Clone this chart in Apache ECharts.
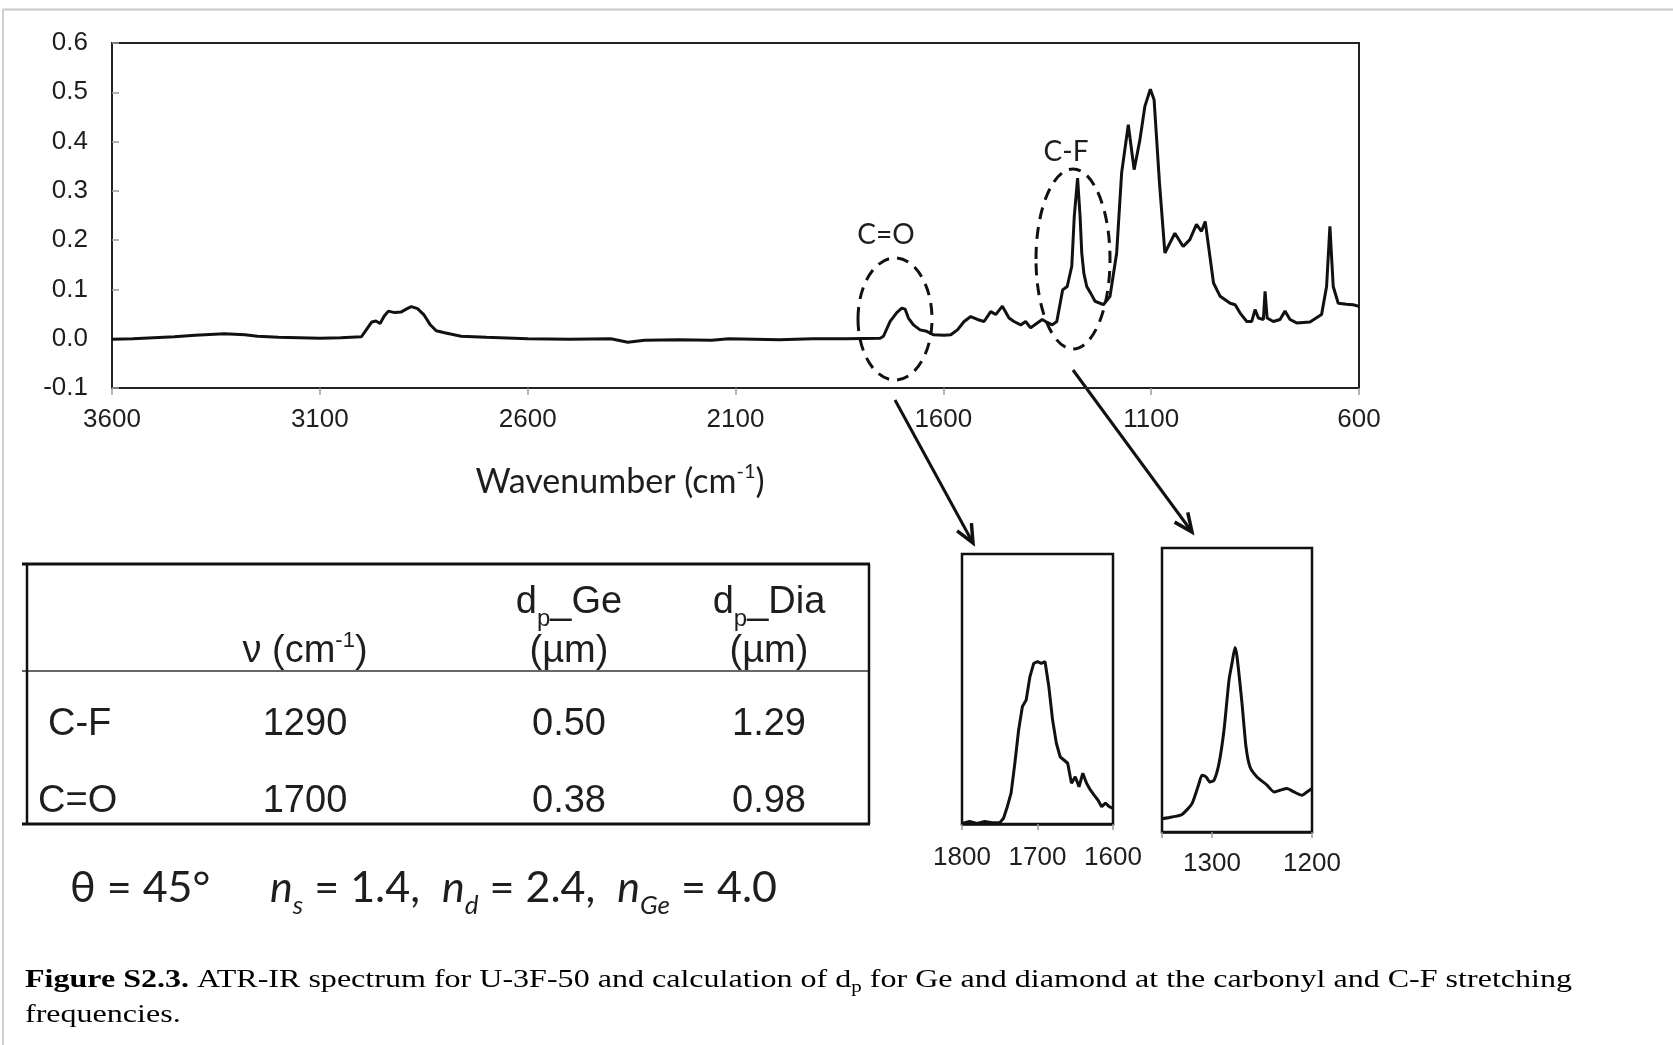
<!DOCTYPE html>
<html><head><meta charset="utf-8">
<script src="https://cdn.jsdelivr.net/npm/echarts@6/dist/echarts.min.js"></script>
<style>html,body{margin:0;padding:0;background:#fff;}#c{width:1673px;height:1045px;}</style>
</head><body><div id="c"></div>
<script>
// ---- main ATR-IR spectrum (wavenumber cm-1, absorbance) ----
const wavenumber = [3600,3550,3500,3450,3400,3330,3280,3250,3200,3150,3100,3050,3000,2990,2975,2965,2955,2945,2935,2920,2905,2890,2880,2865,2850,2835,2820,2800,2760,2700,2600,2500,2400,2359,2319,2237,2157,2116,1995,1914,1833,1752,1744,1728,1712,1700,1692,1684,1672,1656,1640,1624,1598,1582,1566,1550,1534,1518,1502,1486,1474,1458,1442,1430,1414,1402,1390,1374,1362,1350,1338,1327,1313,1302,1291,1285,1277,1271,1267,1262,1255,1246,1235,1215,1199,1183,1171,1155,1141,1127,1115,1102,1093,1080,1067,1055,1043,1023,1007,991,979,970,963,950,934,910,898,886,870,858,850,842,830,826,821,806,790,778,766,750,718,690,678,670,662,650,630,614,602,600];
const absorbance = [-0.001,0.000,0.002,0.004,0.007,0.010,0.008,0.005,0.003,0.002,0.001,0.002,0.004,0.016,0.034,0.036,0.031,0.046,0.056,0.053,0.054,0.061,0.065,0.061,0.049,0.029,0.016,0.012,0.005,0.003,0.000,-0.001,0.000,-0.007,-0.003,-0.002,-0.003,0.000,-0.002,0.000,0.000,0.001,0.005,0.035,0.053,0.062,0.060,0.042,0.028,0.018,0.015,0.008,0.007,0.008,0.018,0.035,0.045,0.039,0.035,0.055,0.049,0.066,0.042,0.035,0.028,0.035,0.022,0.032,0.039,0.033,0.028,0.035,0.099,0.106,0.147,0.248,0.326,0.248,0.174,0.133,0.106,0.093,0.076,0.069,0.086,0.174,0.337,0.434,0.343,0.404,0.472,0.506,0.485,0.316,0.174,0.194,0.214,0.187,0.201,0.232,0.218,0.238,0.194,0.113,0.086,0.072,0.069,0.052,0.035,0.035,0.059,0.042,0.039,0.096,0.042,0.035,0.039,0.056,0.039,0.032,0.034,0.049,0.106,0.228,0.106,0.072,0.070,0.069,0.066,0.066];

// ---- C=O inset (relative intensity) ----
const coWavenumber = [1800,1790,1780,1770,1760,1750,1745,1740,1735,1730,1725,1720,1715,1710,1705,1700,1695,1690,1685,1680,1675,1670,1665,1660,1655,1650,1645,1640,1635,1630,1625,1620,1615,1610,1605,1600];
const coIntensity = [0.002,0.009,0.002,0.009,0.005,0.005,0.021,0.064,0.114,0.225,0.348,0.435,0.459,0.546,0.595,0.601,0.595,0.601,0.509,0.385,0.299,0.249,0.237,0.225,0.151,0.175,0.138,0.188,0.151,0.126,0.107,0.089,0.064,0.077,0.064,0.058];

// ---- C-F inset (relative intensity) ----
const cfWavenumber = [1350,1340,1330,1320,1313,1310,1306,1302,1298,1293,1288,1283,1280,1277,1275,1270,1266,1262,1255,1245,1238,1232,1225,1218,1210,1205,1200];
const cfIntensity = [0.047,0.053,0.062,0.100,0.171,0.200,0.194,0.176,0.182,0.241,0.359,0.535,0.594,0.650,0.618,0.453,0.300,0.229,0.194,0.165,0.141,0.147,0.153,0.141,0.129,0.141,0.153];

// ---- table ----
const tableBonds = ['C-F', 'C=O'];
const tableNu = ['1290', '1700'];
const tableDpGe = ['0.50', '0.38'];
const tableDpDia = ['1.29', '0.98'];

const mainXRange = [600, 3600], mainXStep = 500;
const mainYRange = [-0.1, 0.6], mainYStep = 0.1;

const zip = (a, b) => a.map((v, i) => [v, b[i]]);
const INK = '#111', TXT = '#1e1e1e';
const SANS = '"Liberation Sans", Arial, sans-serif';
const CAL = 'Lato, "Open Sans", sans-serif';
const SERIF = '"Liberation Serif", "Times New Roman", serif';

function measure(font, t) {
  const c = document.createElement('canvas').getContext('2d');
  c.font = font; return c.measureText(t).width;
}
const CAP = 26, CAPSUB = 17;
const capA = 'Figure S2.3.', capB = ' ATR-IR spectrum for U-3F-50 and calculation of d', capC = 'p', capD = ' for Ge and diamond at the carbonyl and C-F stretching';
const capW = measure('bold ' + CAP + 'px "Liberation Serif"', capA) + measure(CAP + 'px "Liberation Serif"', capB + capD) + measure(CAPSUB + 'px "Liberation Serif"', capC);
const capScale = 1547 / capW;

function arrow(x1, y1, x2, y2) {
  const a = Math.atan2(y2 - y1, x2 - x1), L = 20, w = 0.42;
  return [
    {type: 'line', shape: {x1, y1, x2, y2}, style: {stroke: INK, lineWidth: 3}},
    {type: 'polyline', shape: {points: [[x2 - L * Math.cos(a - w), y2 - L * Math.sin(a - w)], [x2, y2], [x2 - L * Math.cos(a + w), y2 - L * Math.sin(a + w)]]}, style: {stroke: INK, lineWidth: 3.5, fill: null}}
  ];
}
function hline(x1, x2, y, w, c) { return {type: 'line', shape: {x1, y1: y, x2, y2: y}, style: {stroke: c || INK, lineWidth: w}}; }
function vline(x, y1, y2, w) { return {type: 'line', shape: {x1: x, y1, x2: x, y2}, style: {stroke: INK, lineWidth: w}}; }
function txt(x, y, text, size, opts) {
  return {type: 'text', x, y, style: Object.assign({text, fontSize: size, fontFamily: SANS, fill: TXT, align: 'center', verticalAlign: 'middle'}, opts || {})};
}

const tblCols = [305, 569, 769];
const tblRows = [725, 802];
const dpRich = {lineHeight: 56, rich: {sub: {fontSize: 24, fontFamily: SANS, lineHeight: 24, verticalAlign: 'bottom', fill: TXT}}};
const graphics = [
  // page frame
  hline(3, 1673, 9.5, 2, '#c8c8c8'),
  {type: 'line', shape: {x1: 3, y1: 9, x2: 3, y2: 1045}, style: {stroke: '#d0d0d0', lineWidth: 2}},
  // annotations
  {type: 'ellipse', shape: {cx: 895, cy: 319, rx: 37, ry: 61}, style: {stroke: INK, lineWidth: 3, fill: null, lineDash: [12, 8]}},
  {type: 'ellipse', shape: {cx: 1073, cy: 259, rx: 37, ry: 90}, style: {stroke: INK, lineWidth: 3, fill: null, lineDash: [12, 8]}},
  ...arrow(895, 400, 973, 543),
  ...arrow(1073, 370, 1192, 532),
  txt(886, 235, 'C=O', 28, {fontFamily: CAL}),
  txt(1066, 152, 'C-F', 28, {fontFamily: CAL}),
  txt(620, 482, 'Wavenumber (cm{sup|-1})', 34, {fontFamily: CAL, lineHeight: 40, rich: {sup: {fontSize: 20, fontFamily: CAL, lineHeight: 20, verticalAlign: 'top', fill: TXT}}}),
  // table
  hline(22, 870, 564, 3),
  hline(22, 870, 671, 1.5, '#333'),
  hline(22, 870, 824, 3),
  vline(27, 564, 824, 2.5),
  vline(869, 564, 824, 2.5),
  txt(tblCols[0], 652, '\u03bd (cm{sup|-1})', 38, {lineHeight: 44, rich: {sup: {fontSize: 22, fontFamily: SANS, lineHeight: 22, verticalAlign: 'top', fill: TXT}}}),
  txt(tblCols[1], 603, 'd{sub|p}_Ge', 38, dpRich),
  txt(tblCols[1], 652, '(\u00b5m)', 38),
  txt(tblCols[2], 603, 'd{sub|p}_Dia', 38, dpRich),
  txt(tblCols[2], 652, '(\u00b5m)', 38),
  // formula line
  txt(70, 888, '\u03b8 = 45\u00b0', 43, {fontFamily: CAL, align: 'left'}),
  txt(270, 888, '{it|n}{sub|s} = 1.4,  {it|n}{sub|d} = 2.4,  {it|n}{sub|Ge} = 4.0', 43, {fontFamily: CAL, align: 'left', lineHeight: 62,
    rich: {it: {fontStyle: 'italic', fontSize: 43, fontFamily: CAL, fill: TXT, lineHeight: 62}, sub: {fontStyle: 'italic', fontSize: 26, fontFamily: CAL, lineHeight: 24, verticalAlign: 'bottom', fill: TXT}}}),
  // caption
  {type: 'text', x: 25, y: 980, scaleX: capScale, style: {text: '{b|' + capA + '}' + capB + '{sub|' + capC + '}' + capD, fontFamily: SERIF, fontSize: CAP, fill: '#000', align: 'left', verticalAlign: 'middle', lineHeight: 32,
    rich: {b: {fontWeight: 'bold', fontFamily: SERIF, fontSize: CAP, fill: '#000', lineHeight: 32}, sub: {fontFamily: SERIF, fontSize: CAPSUB, lineHeight: 18, verticalAlign: 'bottom', fill: '#000'}}}},
  {type: 'text', x: 25, y: 1015, scaleX: capScale, style: {text: 'frequencies.', fontFamily: SERIF, fontSize: CAP, fill: '#000', align: 'left', verticalAlign: 'middle'}}
];
tableBonds.forEach((b, i) => {
  graphics.push(txt(i === 0 ? 48 : 38, tblRows[i], b, 38, {align: 'left'}));
  graphics.push(txt(tblCols[0], tblRows[i], tableNu[i], 38));
  graphics.push(txt(tblCols[1], tblRows[i], tableDpGe[i], 38));
  graphics.push(txt(tblCols[2], tblRows[i], tableDpDia[i], 38));
});

const gray = '#9a9a9a';
const plain = v => String(v);
const chart = echarts.init(document.getElementById('c'), null, {renderer: 'canvas'});
chart.setOption({
  animation: false,
  backgroundColor: '#fff',
  grid: [
    {left: 112, top: 43, width: 1247, height: 345, show: true, borderColor: '#222', borderWidth: 2, containLabel: false},
    {left: 962, top: 554, width: 151, height: 270, show: true, borderColor: INK, borderWidth: 2.5},
    {left: 1162, top: 548, width: 150, height: 284, show: true, borderColor: INK, borderWidth: 2.5}
  ],
  xAxis: [
    {gridIndex: 0, type: 'value', inverse: true, min: mainXRange[0], max: mainXRange[1], interval: mainXStep,
      axisLine: {show: true, onZero: false, lineStyle: {color: '#222', width: 2}},
      axisTick: {show: true, inside: false, length: 7, lineStyle: {color: gray, width: 1.5}},
      axisLabel: {fontSize: 26, fontFamily: SANS, color: TXT, margin: 19, formatter: plain},
      splitLine: {show: false}},
    {gridIndex: 1, type: 'value', inverse: true, min: 1600, max: 1800, interval: 100,
      axisLine: {show: true, onZero: false, lineStyle: {color: INK, width: 2.5}},
      axisTick: {show: true, length: 6, lineStyle: {color: gray, width: 1.5}},
      axisLabel: {fontSize: 26, fontFamily: SANS, color: TXT, margin: 21, formatter: plain},
      splitLine: {show: false}},
    {gridIndex: 2, type: 'value', inverse: true, min: 1200, max: 1350, interval: 100,
      axisLine: {show: true, onZero: false, lineStyle: {color: INK, width: 2.5}},
      axisTick: {show: true, length: 6, lineStyle: {color: gray, width: 1.5}},
      axisLabel: {fontSize: 26, fontFamily: SANS, color: TXT, margin: 19, formatter: v => (v % 100 === 0 ? String(v) : '')},
      splitLine: {show: false}}
  ],
  yAxis: [
    {gridIndex: 0, type: 'value', min: mainYRange[0], max: mainYRange[1], interval: mainYStep,
      axisLine: {show: true, onZero: false, lineStyle: {color: '#222', width: 2}},
      axisTick: {show: true, inside: true, length: 7, lineStyle: {color: gray, width: 1.5}},
      axisLabel: {fontSize: 26, fontFamily: SANS, color: TXT, margin: 24, formatter: v => v.toFixed(1)},
      splitLine: {show: false}},
    {gridIndex: 1, type: 'value', min: 0, max: 1, show: false, splitLine: {show: false}},
    {gridIndex: 2, type: 'value', min: 0, max: 1, show: false, splitLine: {show: false}}
  ],
  series: [
    {type: 'line', xAxisIndex: 0, yAxisIndex: 0, data: zip(wavenumber, absorbance), showSymbol: false, smooth: false, lineStyle: {color: INK, width: 3}, silent: true},
    {type: 'line', xAxisIndex: 1, yAxisIndex: 1, data: zip(coWavenumber, coIntensity), showSymbol: false, lineStyle: {color: INK, width: 3}, silent: true},
    {type: 'line', xAxisIndex: 2, yAxisIndex: 2, data: zip(cfWavenumber, cfIntensity), showSymbol: false, smooth: 0.2, lineStyle: {color: INK, width: 3}, silent: true}
  ],
  graphic: {elements: graphics}
});
</script></body></html>
